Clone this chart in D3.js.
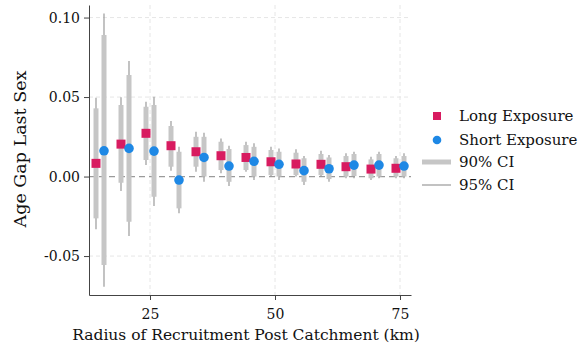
<!DOCTYPE html>
<html>
<head>
<meta charset="utf-8">
<script src="https://cdn.jsdelivr.net/npm/d3@7"></script>
<style>
  body { margin: 0; background: #fff; }
  svg { display: block; font-family: "DejaVu Serif", serif; }
</style>
</head>
<body>
<svg id="chart" width="587" height="349"></svg>
<script>
// radius of catchment (km)
var radii = [15, 20, 25, 30, 35, 40, 45, 50, 55, 60, 65, 70, 75];

// Long exposure: estimate, 90% CI, 95% CI
var longEst  = [0.0083, 0.0204, 0.0272, 0.0194, 0.0156, 0.0131, 0.0120, 0.0093, 0.0079, 0.0077, 0.0062, 0.0047, 0.0052];
var longLo90 = [-0.0263, -0.0039, 0.0104, 0.0062, 0.0062, 0.0041, 0.0041, 0.0009, 0.0009, 0.0009, 0.0000, -0.0011, 0.0000];
var longHi90 = [0.0429, 0.0450, 0.0439, 0.0318, 0.0250, 0.0219, 0.0198, 0.0167, 0.0150, 0.0142, 0.0129, 0.0108, 0.0115];
var longLo95 = [-0.0332, -0.0091, 0.0072, 0.0036, 0.0030, 0.0020, 0.0030, 0.0000, 0.0000, 0.0000, -0.0011, -0.0022, -0.0011];
var longHi95 = [0.0496, 0.0498, 0.0470, 0.0349, 0.0282, 0.0240, 0.0219, 0.0187, 0.0171, 0.0162, 0.0146, 0.0125, 0.0129];

// Short exposure
var shortEst  = [0.0162, 0.0177, 0.0160, -0.0022, 0.0120, 0.0066, 0.0096, 0.0077, 0.0037, 0.0049, 0.0072, 0.0072, 0.0066];
var shortLo90 = [-0.0557, -0.0284, -0.0127, -0.0200, 0.0000, -0.0033, 0.0000, 0.0000, -0.0033, -0.0016, 0.0003, 0.0000, 0.0000];
var shortHi90 = [0.0890, 0.0638, 0.0450, 0.0156, 0.0250, 0.0173, 0.0187, 0.0156, 0.0115, 0.0120, 0.0142, 0.0142, 0.0129];
var shortLo95 = [-0.0693, -0.0374, -0.0186, -0.0231, -0.0033, -0.0060, -0.0022, -0.0022, -0.0053, -0.0033, -0.0011, -0.0011, -0.0011];
var shortHi95 = [0.1026, 0.0726, 0.0502, 0.0187, 0.0275, 0.0194, 0.0209, 0.0177, 0.0129, 0.0135, 0.0156, 0.0156, 0.0146];

var xTicks = [25, 50, 75];
var yTicks = [-0.05, 0, 0.05, 0.10];
var legendLabels = ["Long Exposure", "Short Exposure", "90% CI", "95% CI"];

var RED = "#d81b60", BLUE = "#1e88e5", CI90 = "#c6c6c6", CI95 = "#9a9a9a";

var svg = d3.select("#chart");
var pLeft = 89, pRight = 411, pTop = 5, pBottom = 295;

var x = d3.scaleLinear().domain([12.8, 77.2]).range([pLeft, pRight]);
var y = d3.scaleLinear().domain([-0.0745, 0.1079]).range([pBottom, pTop]);

// grid
svg.append("g").selectAll("line")
  .data(yTicks.filter(function(d) { return d !== 0; }))
  .enter().append("line")
  .attr("x1", pLeft).attr("x2", pRight)
  .attr("y1", function(d) { return y(d); }).attr("y2", function(d) { return y(d); })
  .attr("stroke", "#e6e6e6").attr("stroke-dasharray", "4,3");
svg.append("g").selectAll("line")
  .data(xTicks)
  .enter().append("line")
  .attr("y1", pTop).attr("y2", pBottom)
  .attr("x1", function(d) { return x(d); }).attr("x2", function(d) { return x(d); })
  .attr("stroke", "#e6e6e6").attr("stroke-dasharray", "4,3");

// zero line
svg.append("line")
  .attr("x1", pLeft).attr("x2", pRight)
  .attr("y1", y(0)).attr("y2", y(0))
  .attr("stroke", "#9a9a9a").attr("stroke-width", 1.2).attr("stroke-dasharray", "6,4");

// series
function series(offset, est, lo90, hi90, lo95, hi95) {
  var rows = radii.map(function(r, i) {
    return { r: r + offset, est: est[i], lo90: lo90[i], hi90: hi90[i], lo95: lo95[i], hi95: hi95[i] };
  });
  var g = svg.append("g");
  g.selectAll("line.c95").data(rows).enter().append("line")
    .attr("class", "c95")
    .attr("x1", function(d) { return x(d.r); }).attr("x2", function(d) { return x(d.r); })
    .attr("y1", function(d) { return y(d.lo95); }).attr("y2", function(d) { return y(d.hi95); })
    .attr("stroke", CI95).attr("stroke-width", 1.2);
  g.selectAll("line.c90").data(rows).enter().append("line")
    .attr("class", "c90")
    .attr("x1", function(d) { return x(d.r); }).attr("x2", function(d) { return x(d.r); })
    .attr("y1", function(d) { return y(d.lo90); }).attr("y2", function(d) { return y(d.hi90); })
    .attr("stroke", CI90).attr("stroke-width", 5);
  return { g: g, rows: rows };
}
var sL = series(-0.8, longEst, longLo90, longHi90, longLo95, longHi95);
var sS = series(0.8, shortEst, shortLo90, shortHi90, shortLo95, shortHi95);

sL.g.selectAll("rect").data(sL.rows).enter().append("rect")
  .attr("x", function(d) { return x(d.r) - 4.5; })
  .attr("y", function(d) { return y(d.est) - 4.5; })
  .attr("width", 9).attr("height", 9)
  .attr("fill", RED);
sS.g.selectAll("circle").data(sS.rows).enter().append("circle")
  .attr("cx", function(d) { return x(d.r); })
  .attr("cy", function(d) { return y(d.est); })
  .attr("r", 4.8)
  .attr("fill", BLUE);

// axes
var xAxis = svg.append("g").attr("transform", "translate(0," + pBottom + ")")
  .call(d3.axisBottom(x).tickValues(xTicks).tickSize(5).tickSizeOuter(0).tickPadding(9));
var yAxis = svg.append("g").attr("transform", "translate(" + pLeft + ",0)")
  .call(d3.axisLeft(y).tickValues(yTicks).tickSize(5).tickSizeOuter(0).tickPadding(4)
    .tickFormat(function(d) { return d3.format(".2f")(d).replace("−", "-"); }));
[xAxis, yAxis].forEach(function(a) {
  a.select(".domain").attr("stroke", "#444");
  a.selectAll(".tick line").attr("stroke", "#444");
  a.selectAll("text").attr("fill", "#111").style("font-size", "14px")
    .style("font-family", "DejaVu Serif, serif");
});

svg.append("text")
  .attr("x", (pLeft + pRight) / 2 - 4).attr("y", 340)
  .attr("text-anchor", "middle").attr("fill", "#111")
  .style("font-size", "15.5px")
  .text("Radius of Recruitment Post Catchment (km)");
svg.append("text")
  .attr("transform", "translate(26," + 149 + ") rotate(-90)")
  .attr("text-anchor", "middle").attr("fill", "#111")
  .style("font-size", "17.5px")
  .text("Age Gap Last Sex");

// legend
var leg = svg.append("g");
var legY = [116, 140, 162, 185];
leg.append("rect").attr("x", 433).attr("y", legY[0] - 4).attr("width", 8).attr("height", 8).attr("fill", RED);
leg.append("circle").attr("cx", 437).attr("cy", legY[1]).attr("r", 4.3).attr("fill", BLUE);
leg.append("line").attr("x1", 422).attr("x2", 451).attr("y1", legY[2]).attr("y2", legY[2])
  .attr("stroke", CI90).attr("stroke-width", 5);
leg.append("line").attr("x1", 422).attr("x2", 451).attr("y1", legY[3]).attr("y2", legY[3])
  .attr("stroke", CI95).attr("stroke-width", 1.2);
leg.selectAll("text").data(legendLabels).enter().append("text")
  .attr("x", 459).attr("y", function(d, i) { return legY[i]; })
  .attr("dy", "0.35em").attr("fill", "#111")
  .style("font-size", "15px")
  .text(function(d) { return d; });
</script>
</body>
</html>
